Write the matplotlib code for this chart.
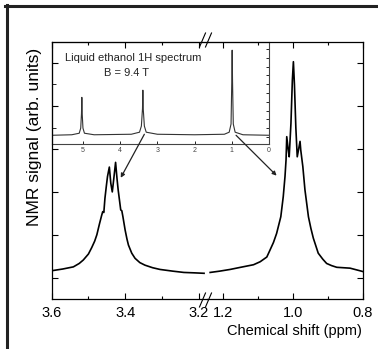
import matplotlib
matplotlib.use('Agg')
import matplotlib.pyplot as plt
from matplotlib.lines import Line2D
from matplotlib.ticker import MultipleLocator, FixedLocator

plt.rcParams['font.family'] = ['Liberation Sans', 'DejaVu Sans']

# CH2 quartet region (left part of the broken axis)
ch2_ppm = [3.600, 3.570, 3.541, 3.525, 3.514, 3.500, 3.491, 3.483, 3.477, 3.470,
           3.464, 3.461, 3.458, 3.455, 3.451, 3.448, 3.443, 3.439, 3.435, 3.431,
           3.426, 3.422, 3.419, 3.412, 3.409, 3.406, 3.400, 3.395, 3.391, 3.382,
           3.373, 3.360, 3.346, 3.325, 3.305, 3.270, 3.240, 3.210, 3.185]
ch2_signal = [0.16, 0.20, 0.25, 0.33, 0.41, 0.55, 0.70, 0.85, 1.00, 1.25,
              1.45, 1.54, 1.52, 1.85, 2.15, 2.36, 2.58, 2.20, 2.00, 2.30,
              2.69, 2.30, 2.05, 1.58, 1.56, 1.42, 1.11, 0.90, 0.76, 0.57,
              0.45, 0.35, 0.29, 0.23, 0.19, 0.15, 0.12, 0.11, 0.10]

# CH3 triplet region (right part of the broken axis)
ch3_ppm = [1.237, 1.210, 1.180, 1.150, 1.113, 1.094, 1.075, 1.066, 1.056, 1.047,
           1.035, 1.028, 1.023, 1.020, 1.018, 1.014, 1.011, 1.006, 1.002, 0.999,
           0.996, 0.992, 0.988, 0.984, 0.980, 0.978, 0.972, 0.966, 0.956, 0.949,
           0.942, 0.928, 0.915, 0.904, 0.890, 0.875, 0.837, 0.809, 0.800]
ch3_signal = [0.12, 0.15, 0.19, 0.24, 0.30, 0.37, 0.48, 0.64, 0.82, 1.03,
              1.42, 1.89, 2.36, 2.75, 3.29, 3.00, 2.82, 3.60, 4.60, 5.04,
              4.50, 3.50, 2.82, 3.00, 3.18, 2.98, 2.59, 2.05, 1.42, 1.15,
              0.92, 0.57, 0.43, 0.33, 0.28, 0.24, 0.22, 0.16, 0.14]

# full spectrum shown in the inset
full_ppm = [5.84, 5.30, 5.10, 5.06, 5.04, 5.03, 5.02, 5.00, 4.96, 4.70,
            3.70, 3.48, 3.43, 3.40, 3.39, 3.38, 3.35, 3.30, 3.00, 2.00,
            1.20, 1.07, 1.02, 1.00, 0.99, 0.98, 0.96, 0.91, 0.70, 0.00]
full_signal = [0.09, 0.095, 0.11, 0.16, 0.30, 0.46, 0.30, 0.16, 0.11, 0.095,
               0.10, 0.12, 0.18, 0.35, 0.53, 0.35, 0.18, 0.12, 0.10, 0.095,
               0.10, 0.12, 0.20, 0.62, 0.92, 0.62, 0.20, 0.12, 0.095, 0.09]

left_ticks = [3.6, 3.4, 3.2]
left_labels = ['3.6', '3.4', '3.2']
right_ticks = [1.2, 1.0, 0.8]
right_labels = ['1.2', '1.0', '0.8']
inset_ticks = [5, 4, 3, 2, 1, 0]

W, H = 378, 349
fig = plt.figure(figsize=(W / 100, H / 100), dpi=100)


def fx(px):
    return px / W


def fy(py):
    return 1 - py / H


# inset first, main axes drawn above it
ax_in = fig.add_axes([fx(51.7), fy(144.5), fx(269 - 51.7), (144.5 - 42) / H], zorder=1)
ax_l = fig.add_axes([fx(51.7), fy(299), fx(207 - 51.7), 257 / H], zorder=2)
ax_r = fig.add_axes([fx(207), fy(299), fx(363 - 207), 257 / H], zorder=2)

for ax in (ax_l, ax_r):
    ax.set_facecolor('none')
    ax.set_ylim(-0.5, 5.5)
    ax.yaxis.set_major_locator(MultipleLocator(1))
    ax.xaxis.set_minor_locator(MultipleLocator(0.1))
    ax.tick_params(which='both', direction='in', top=True, labelleft=False,
                   labelsize=10.5, pad=5, width=0.8)
    ax.tick_params(which='major', length=4)
    ax.tick_params(which='minor', length=2.5)
    for s in ax.spines.values():
        s.set_linewidth(0.9)

ax_l.plot(ch2_ppm, ch2_signal, color='black', lw=1.2)
ax_l.set_xlim(3.6, 3.177)
ax_l.set_xticks(left_ticks)
ax_l.set_xticklabels(left_labels)
ax_l.spines['right'].set_visible(False)
ax_l.tick_params(axis='y', left=True, right=False)

ax_r.plot(ch3_ppm, ch3_signal, color='black', lw=1.2)
ax_r.set_xlim(1.246, 0.8)
ax_r.set_xticks(right_ticks)
ax_r.set_xticklabels(right_labels)
ax_r.spines['left'].set_visible(False)
ax_r.tick_params(axis='y', left=False, right=True, labelright=False)

# inset spectrum
ax_in.plot(full_ppm, full_signal, color='#333333', lw=0.8)
ax_in.set_xlim(5.84, 0)
ax_in.set_ylim(0, 1)
ax_in.set_xticks(inset_ticks)
ax_in.set_xticklabels([str(t) for t in inset_ticks])
ax_in.yaxis.set_major_locator(FixedLocator([0.164, 0.59]))
ax_in.yaxis.set_minor_locator(FixedLocator([0.073 + 0.0858 * i for i in range(11)]))
ax_in.yaxis.remove_overlapping_locs = False
ax_in.tick_params(axis='x', direction='in', length=2, width=0.6, labelsize=5,
                  labelcolor='#444444', pad=2)
ax_in.tick_params(axis='y', which='major', direction='in', left=True, right=False,
                  length=3, width=0.6, labelleft=False)
ax_in.tick_params(axis='y', which='minor', direction='in', left=False, right=True,
                  length=2.5, width=0.6)
for s in ax_in.spines.values():
    s.set_linewidth(0.8)
    s.set_color('#444444')

fig.text(fx(133), fy(58), 'Liquid ethanol 1H spectrum', ha='center', va='center',
         fontsize=8, color='#222222')
fig.text(fx(127), fy(73), 'B = 9.4 T', ha='center', va='center',
         fontsize=8, color='#222222')

# arrows from inset peaks to the zoomed peaks
arrow = dict(arrowstyle='-|>', lw=0.9, color='#222222', mutation_scale=6,
             shrinkA=0, shrinkB=0)
ax_l.annotate('', xy=(3.412, 2.33), xycoords='data',
              xytext=(3.35, 0.10), textcoords=ax_in.transData, arrowprops=arrow)
ax_r.annotate('', xy=(1.047, 2.38), xycoords='data',
              xytext=(0.885, 0.09), textcoords=ax_in.transData, arrowprops=arrow)

# axis break marks
for cx, cy in [(202.5, 300), (208.5, 300), (202.5, 40), (208.5, 40)]:
    fig.add_artist(Line2D([fx(cx - 3), fx(cx + 3)], [fy(cy + 7), fy(cy - 7)],
                          color='black', lw=0.8))

fig.text(fx(35), fy(137), 'NMR signal (arb. units)', rotation=90,
         ha='center', va='center', fontsize=12.5)
fig.text(fx(362), fy(331), 'Chemical shift (ppm)', ha='right', va='center',
         fontsize=10.5)

# frame around the picture
fig.add_artist(Line2D([fx(5), fx(378)], [fy(6), fy(6)], color='#222222', lw=2.2))
fig.add_artist(Line2D([fx(6.5), fx(6.5)], [fy(5), fy(349)], color='#222222', lw=2.2))

fig.savefig('out.png', dpi=100)
